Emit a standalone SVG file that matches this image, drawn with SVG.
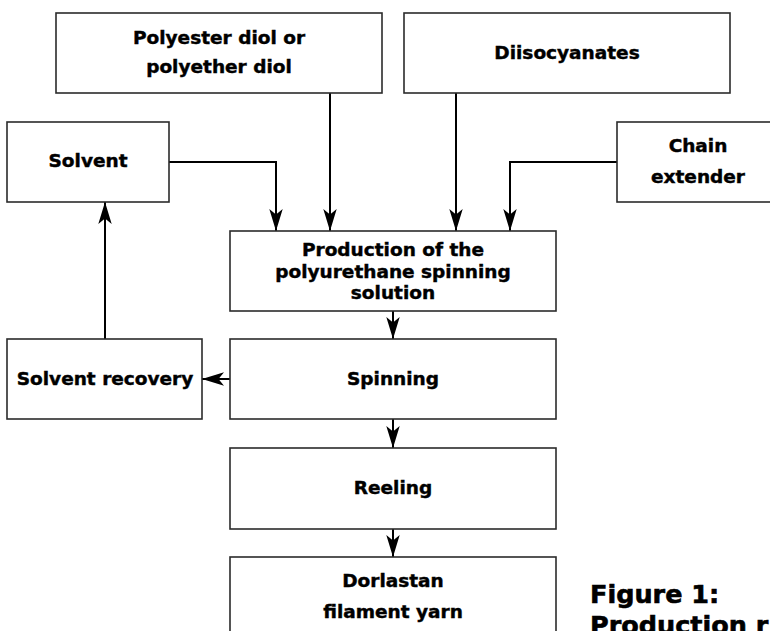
<svg xmlns="http://www.w3.org/2000/svg" width="770" height="631" viewBox="0 0 770 631">
<style>
  .box rect { fill: #ffffff; stroke: #2b2b2b; stroke-width: 1.6; }
  .box text { font-family: "DejaVu Sans", "Liberation Sans", sans-serif; font-weight: bold; font-size: 18.5px; fill: #000; stroke: #000; stroke-width: 0.45; text-anchor: middle; }
  .conn path { fill: none; stroke: #000; stroke-width: 2; marker-end: url(#arrow); }
  .cap { font-family: "DejaVu Sans", "Liberation Sans", sans-serif; font-weight: bold; font-size: 25.5px; fill: #000; stroke: #000; stroke-width: 0.6; }
</style>
<defs>
  <marker id="arrow" markerUnits="userSpaceOnUse" viewBox="-23 -7 24 14" refX="0" refY="0" markerWidth="24" markerHeight="14" orient="auto">
    <path d="M0,0 L-22,-6.7 L-16.5,0 L-22,6.7 Z" fill="#000"/>
  </marker>
</defs>
<rect x="0" y="0" width="770" height="631" fill="#ffffff"/>

<g class="conn" id="connectors">
  <path d="M330,93 V231"/>
  <path d="M169,162 H276 V231"/>
  <path d="M456,93 V231"/>
  <path d="M617,162 H510 V231"/>
  <path d="M393,311 V339"/>
  <path d="M230,379 H202"/>
  <path d="M105,339 V202"/>
  <path d="M393,419 V448"/>
  <path d="M393,529 V557"/>
</g>

<g class="box" id="polyol">
  <rect x="56" y="13" width="326" height="80"/>
  <text x="219" y="44">Polyester diol or</text>
  <text x="219" y="73">polyether diol</text>
</g>
<g class="box" id="diisocyanates">
  <rect x="404" y="13" width="326" height="80"/>
  <text x="567" y="59">Diisocyanates</text>
</g>
<g class="box" id="solvent">
  <rect x="7" y="122" width="162" height="80"/>
  <text x="88" y="167">Solvent</text>
</g>
<g class="box" id="chain-extender">
  <rect x="617" y="122" width="162" height="80"/>
  <text x="698" y="152">Chain</text>
  <text x="698" y="183">extender</text>
</g>
<g class="box" id="production">
  <rect x="230" y="231" width="326" height="80"/>
  <text x="393" y="256">Production of the</text>
  <text x="393" y="277.5">polyurethane spinning</text>
  <text x="393" y="299">solution</text>
</g>
<g class="box" id="spinning">
  <rect x="230" y="339" width="326" height="80"/>
  <text x="393" y="385">Spinning</text>
</g>
<g class="box" id="solvent-recovery">
  <rect x="7" y="339" width="195" height="80"/>
  <text x="105" y="385">Solvent recovery</text>
</g>
<g class="box" id="reeling">
  <rect x="230" y="448" width="326" height="81"/>
  <text x="393" y="494">Reeling</text>
</g>
<g class="box" id="dorlastan">
  <rect x="230" y="557" width="326" height="90"/>
  <text x="393" y="587">Dorlastan</text>
  <text x="393" y="618">filament yarn</text>
</g>

<text class="cap" x="590" y="603">Figure 1:</text>
<text class="cap" x="590" y="634">Production r</text>
</svg>
